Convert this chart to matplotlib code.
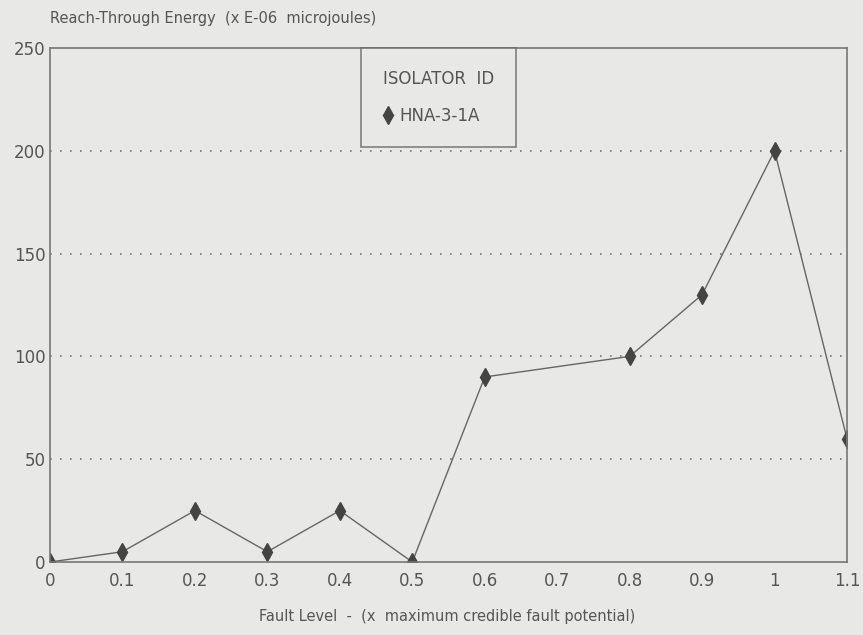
import matplotlib
matplotlib.use('Agg')
import matplotlib.pyplot as plt

fault_level = [0, 0.1, 0.2, 0.3, 0.4, 0.5, 0.6, 0.8, 0.9, 1.0, 1.1]
energy = [0, 5, 25, 5, 25, 0, 90, 100, 130, 200, 60]
x_ticks = [0, 0.1, 0.2, 0.3, 0.4, 0.5, 0.6, 0.7, 0.8, 0.9, 1.0, 1.1]
x_tick_labels = ['0', '0.1', '0.2', '0.3', '0.4', '0.5', '0.6', '0.7', '0.8', '0.9', '1', '1.1']
y_ticks = [0, 50, 100, 150, 200, 250]

bg = '#e8e8e6'
ink = '#555555'

fig = plt.figure(figsize=(8.63, 6.35), dpi=100, facecolor=bg)
ax = fig.add_axes([50 / 863, 1 - 562 / 635, 797 / 863, 514 / 635])
ax.set_facecolor(bg)

ax.plot(fault_level, energy, color='#666666', lw=1.0, marker='d', ms=9,
        markerfacecolor='#444444', markeredgecolor='#444444', label='HNA-3-1A')

ax.set_xlim(0, 1.1)
ax.set_ylim(0, 250)
ax.set_xticks(x_ticks)
ax.set_xticklabels(x_tick_labels)
ax.set_yticks(y_ticks)
ax.tick_params(length=0, labelsize=12, colors=ink, pad=7)
ax.tick_params(axis='y', pad=3)
for s in ax.spines.values():
    s.set_color('#777777')
    s.set_linewidth(1.2)
for y in y_ticks[1:-1]:
    ax.axhline(y, color='#777777', lw=1.2, ls=(0, (1, 5)), zorder=0)

leg = ax.legend(title='ISOLATOR  ID', loc='upper left', bbox_to_anchor=(311 / 797, 1.0),
                borderaxespad=0, frameon=True, fancybox=False, fontsize=12,
                title_fontsize=12, handlelength=0.6, handletextpad=0.4,
                borderpad=1.3, labelspacing=0.8)
leg.get_frame().set_edgecolor('#666666')
leg.get_frame().set_facecolor(bg)
leg.get_frame().set_linewidth(1.2)
leg.get_title().set_color(ink)
leg._legend_box.align = 'left'
leg._legend_box.sep = 14
for t in leg.get_texts():
    t.set_color(ink)

fig.text(50 / 863, 1 - 18 / 635, 'Reach-Through Energy  (x E-06  microjoules)',
         fontsize=10.5, color=ink, va='center', ha='left')
fig.text(447 / 863, 1 - 616 / 635, 'Fault Level  -  (x  maximum credible fault potential)',
         fontsize=10.5, color=ink, va='center', ha='center')

fig.savefig('out.png', dpi=100, facecolor=bg)
